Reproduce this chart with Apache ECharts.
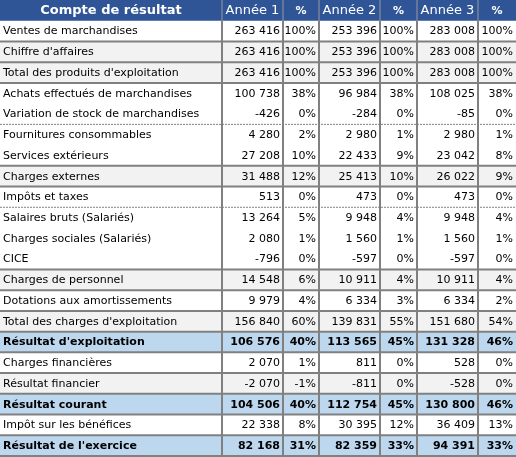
<!DOCTYPE html>
<html>
<head>
<meta charset="utf-8">
<script src="https://cdn.jsdelivr.net/npm/echarts@6/dist/echarts.min.js"></script>
<style>html,body{margin:0;padding:0;background:#fff;}#c{width:516px;height:457px;}</style>
</head>
<body>
<div id="c"></div>
<script>
// ---- data ----
const headers = ['Compte de résultat', 'Année 1', '%', 'Année 2', '%', 'Année 3', '%'];
const labels = [
  'Ventes de marchandises',
  "Chiffre d'affaires",
  "Total des produits d'exploitation",
  'Achats effectués de marchandises',
  'Variation de stock de marchandises',
  'Fournitures consommables',
  'Services extérieurs',
  'Charges externes',
  'Impôts et taxes',
  'Salaires bruts (Salariés)',
  'Charges sociales (Salariés)',
  'CICE',
  'Charges de personnel',
  'Dotations aux amortissements',
  "Total des charges d'exploitation",
  "Résultat d'exploitation",
  'Charges financières',
  'Résultat financier',
  'Résultat courant',
  'Impôt sur les bénéfices',
  "Résultat de l'exercice"
];
const annee1 = [263416, 263416, 263416, 100738, -426, 4280, 27208, 31488, 513, 13264, 2080, -796, 14548, 9979, 156840, 106576, 2070, -2070, 104506, 22338, 82168];
const pct1   = [100, 100, 100, 38, 0, 2, 10, 12, 0, 5, 1, 0, 6, 4, 60, 40, 1, -1, 40, 8, 31];
const annee2 = [253396, 253396, 253396, 96984, -284, 2980, 22433, 25413, 473, 9948, 1560, -597, 10911, 6334, 139831, 113565, 811, -811, 112754, 30395, 82359];
const pct2   = [100, 100, 100, 38, 0, 1, 9, 10, 0, 4, 1, 0, 4, 3, 55, 45, 0, 0, 45, 12, 33];
const annee3 = [283008, 283008, 283008, 108025, -85, 2980, 23042, 26022, 473, 9948, 1560, -597, 10911, 6334, 151680, 131328, 528, -528, 130800, 36409, 94391];
const pct3   = [100, 100, 100, 38, 0, 1, 8, 9, 0, 4, 1, 0, 4, 2, 54, 46, 0, 0, 46, 13, 33];

// row kinds: n = normal, g = subtotal (grey), b = result (blue, bold)
const rowKind = ['n','g','g','n','n','n','n','g','n','n','n','n','g','n','g','b','n','g','b','n','b'];
// separator below each data row: s = solid, d = dotted, n = none
const rowSep  = ['s','s','s','n','d','n','s','s','d','n','n','s','s','s','s','s','s','s','s','s','s'];

// ---- layout / style ----
const colEdges = [0, 222, 283, 319, 380, 417, 478, 516];
const FONT = '"DejaVu Sans"';
const C_HEAD = '#2F5597', C_BLUE = '#BDD7EE', C_GREY = '#F2F2F2', C_LINE = '#808080';

function fmt(n) {
  const s = Math.abs(n).toString().replace(/\B(?=(\d{3})+(?!\d))/g, ' ');
  return (n < 0 ? '-' : '') + s;
}
const cols = [null, annee1, pct1, annee2, pct2, annee3, pct3];
function cellText(c, r) {
  if (r === 0) return headers[c];
  const i = r - 1;
  if (c === 0) return labels[i];
  const v = cols[c][i];
  return (c % 2 === 0) ? v + '%' : fmt(v);
}

const rowNames = ['header'].concat(labels);
const cellData = [];
for (let r = 0; r < rowNames.length; r++) for (let c = 0; c < 7; c++) cellData.push([c, r]);

const lineData = [];
for (let r = 1; r <= labels.length; r++) if (rowSep[r - 1] !== 'n') lineData.push([0, r]);
for (let k = 1; k < colEdges.length - 1; k++) lineData.push([1, k]);

function rowGeom(api, r) {
  const yc = api.coord([0, r])[1];
  const h = api.size([0, 1])[1];
  return { y0: yc - h / 2, yc: yc, h: h };
}

const chart = echarts.init(document.getElementById('c'), null, { renderer: 'canvas' });
chart.setOption({
  animation: false,
  grid: { left: 0, right: 0, top: 0, bottom: 1, containLabel: false },
  xAxis: { type: 'value', min: 0, max: 516, show: false },
  yAxis: { type: 'category', data: rowNames, inverse: true, show: false },
  series: [
    {
      type: 'custom',
      data: cellData,
      z: 1,
      renderItem: function (params, api) {
        const c = api.value(0), r = api.value(1);
        const xL = api.coord([colEdges[c], r])[0];
        const xR = api.coord([colEdges[c + 1], r])[0];
        const g = rowGeom(api, r);
        let fill = '#FFFFFF', color = '#000000', font = '11px ' + FONT, align, x;
        if (r === 0) {
          fill = C_HEAD; color = '#FFFFFF';
          if (c === 0) font = 'bold 13px ' + FONT;
          else if (c % 2 === 0) font = 'bold 11px ' + FONT;
          else font = '13px ' + FONT;
          align = 'center'; x = (xL + xR) / 2;
        } else {
          const k = rowKind[r - 1];
          if (k === 'g') fill = C_GREY;
          if (k === 'b') { fill = C_BLUE; font = 'bold 11px ' + FONT; }
          if (c === 0) { align = 'left'; x = xL + 3; }
          else { align = 'right'; x = xR - 3; }
        }
        const txt = cellText(c, r);
        return {
          type: 'group',
          children: [
            { type: 'rect', shape: { x: xL, y: g.y0, width: xR - xL, height: g.h + 0.5 }, style: { fill: fill }, silent: true },
            { type: 'text', style: { text: txt, x: x, y: g.yc + 0.5, align: align, textAlign: align, verticalAlign: 'middle', textVerticalAlign: 'middle', font: font, fill: color }, silent: true }
          ]
        };
      }
    },
    {
      type: 'custom',
      data: lineData,
      z: 5,
      renderItem: function (params, api) {
        const t = api.value(0), idx = api.value(1);
        const xMin = api.coord([colEdges[0], 0])[0];
        const xMax = api.coord([colEdges[colEdges.length - 1], 0])[0];
        if (t === 0) {
          const g = rowGeom(api, idx);
          const y = g.y0 + g.h;
          const dotted = rowSep[idx - 1] === 'd';
          return {
            type: 'line',
            shape: { x1: xMin, y1: y, x2: xMax, y2: y },
            style: dotted ? { stroke: C_LINE, lineWidth: 1, lineDash: [2, 1] } : { stroke: C_LINE, lineWidth: 2 },
            silent: true
          };
        } else {
          const x = Math.round(api.coord([colEdges[idx], 0])[0]);
          const gh = rowGeom(api, 0);
          const gl = rowGeom(api, labels.length);
          return {
            type: 'group',
            children: [
              { type: 'line', shape: { x1: x, y1: gh.y0, x2: x, y2: gh.y0 + gh.h }, style: { stroke: '#9A9A9A', lineWidth: 1 }, silent: true },
              { type: 'line', shape: { x1: x, y1: gh.y0 + gh.h, x2: x, y2: gl.y0 + gl.h + 1 }, style: { stroke: C_LINE, lineWidth: 2 }, silent: true }
            ]
          };
        }
      }
    }
  ]
});
</script>
</body>
</html>
